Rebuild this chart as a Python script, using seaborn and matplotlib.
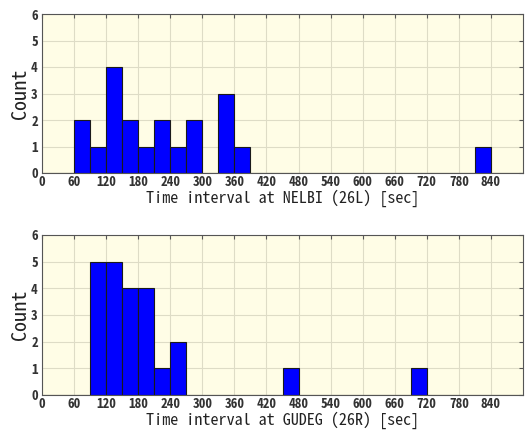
import numpy as np
import matplotlib
matplotlib.use("Agg")
import matplotlib.pyplot as plt
import seaborn as sns

# histogram counts, 30 s bins starting at 0
bin_edges = list(range(0, 931, 30))
nelbi_bin_starts = [60, 90, 120, 150, 180, 210, 240, 270, 330, 360, 810]
nelbi_counts = [2, 1, 4, 2, 1, 2, 1, 2, 3, 1, 1]
gudeg_bin_starts = [90, 120, 150, 180, 210, 240, 450, 690]
gudeg_counts = [5, 5, 4, 4, 1, 2, 1, 1]
x_ticks = list(range(0, 841, 60))
y_ticks = [0, 1, 2, 3, 4, 5, 6]
labels = ["Time interval at NELBI (26L) [sec]", "Time interval at GUDEG (26R) [sec]"]

sns.set_style("white")
plt.rcParams['font.family'] = ['DejaVu Sans']
mono = ['Noto Sans Mono CJK JP', 'DejaVu Sans Mono']

fig = plt.figure(figsize=(5.26, 4.32), dpi=100)
ax1 = fig.add_axes([42/526, 1 - 173/432, 481/526, 159/432])
ax2 = fig.add_axes([42/526, 1 - 395/432, 481/526, 160/432])

data = [(nelbi_bin_starts, nelbi_counts), (gudeg_bin_starts, gudeg_counts)]
for ax, (starts, counts), lab in zip([ax1, ax2], data, labels):
    centers = [s + 15 for s in starts]
    ax.set_facecolor("#fffde6")
    sns.histplot(x=centers, weights=counts, bins=bin_edges, ax=ax,
                 color="#0000ff", edgecolor="#1a1a1a", linewidth=0.8, alpha=1)
    ax.set_xlim(0, 900)
    ax.set_ylim(0, 6)
    ax.set_xticks(x_ticks)
    ax.set_yticks(y_ticks)
    ax.set_xticklabels([str(t) for t in x_ticks], fontsize=9.6, fontweight="bold",
                       color="#333333", family=mono)
    ax.set_yticklabels([str(t) for t in y_ticks], fontsize=9.6, fontweight="bold",
                       color="#333333", family=mono)
    ax.grid(True, color="#dedcc6", linewidth=0.8)
    ax.set_axisbelow(True)
    ax.tick_params(direction="in", length=3, top=True, right=True, colors="#555555",
                   labelcolor="#333333")
    ax.tick_params(axis="x", pad=1.5)
    ax.tick_params(axis="y", pad=3)
    for sp in ax.spines.values():
        sp.set_color("#555555")
        sp.set_linewidth(0.8)
    ax.set_xlabel(lab, fontsize=11.6, color="#222222", labelpad=0, family=mono)
    ax.set_ylabel("Count", fontsize=14.5, color="#222222", labelpad=1, family=mono)

fig.savefig("out.png", dpi=100)
